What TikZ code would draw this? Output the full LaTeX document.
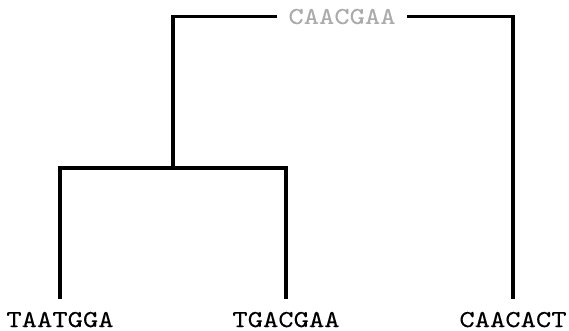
\documentclass[tikz,border=0pt]{standalone}
\usepackage{fontspec}
% wide typewriter face for the sequences
\newfontfamily\seqfont{lmmono10-regular.otf}[FakeStretch=1.2, FakeBold=0.12]
\newcommand{\seqtext}[1]{{\seqfont\fontsize{24.3}{26}\selectfont #1}}
\begin{document}
\begin{tikzpicture}[x=1pt,y=-1pt,
  branch/.style={line width=3.2pt},
  seq/.style={inner sep=0pt},
  ancestor/.style={text=black!33, inner xsep=11pt, inner ysep=0pt}]
\useasboundingbox (0,0) rectangle (569,331);
% leaves
\node[seq, anchor=base] (leafA) at (60,327) {\seqtext{TAATGGA}};
\node[seq, anchor=base] (leafB) at (286,327) {\seqtext{TGACGAA}};
\node[seq, anchor=base] (leafC) at (513,327) {\seqtext{CAACACT}};
% internal nodes
\coordinate (inner) at (173,168);
\node[ancestor] (root) at (342,16.5) {\seqtext{CAACGAA}};
% branches, stopping short of the leaf labels
\draw[branch, shorten <=12.5pt, shorten >=12.5pt] (leafA.north) |- (inner) -| (leafB.north);
\draw[branch] (inner) |- (root.west);
\draw[branch, shorten >=12.5pt] (root.east) -| (leafC.north);
\end{tikzpicture}
\end{document}
